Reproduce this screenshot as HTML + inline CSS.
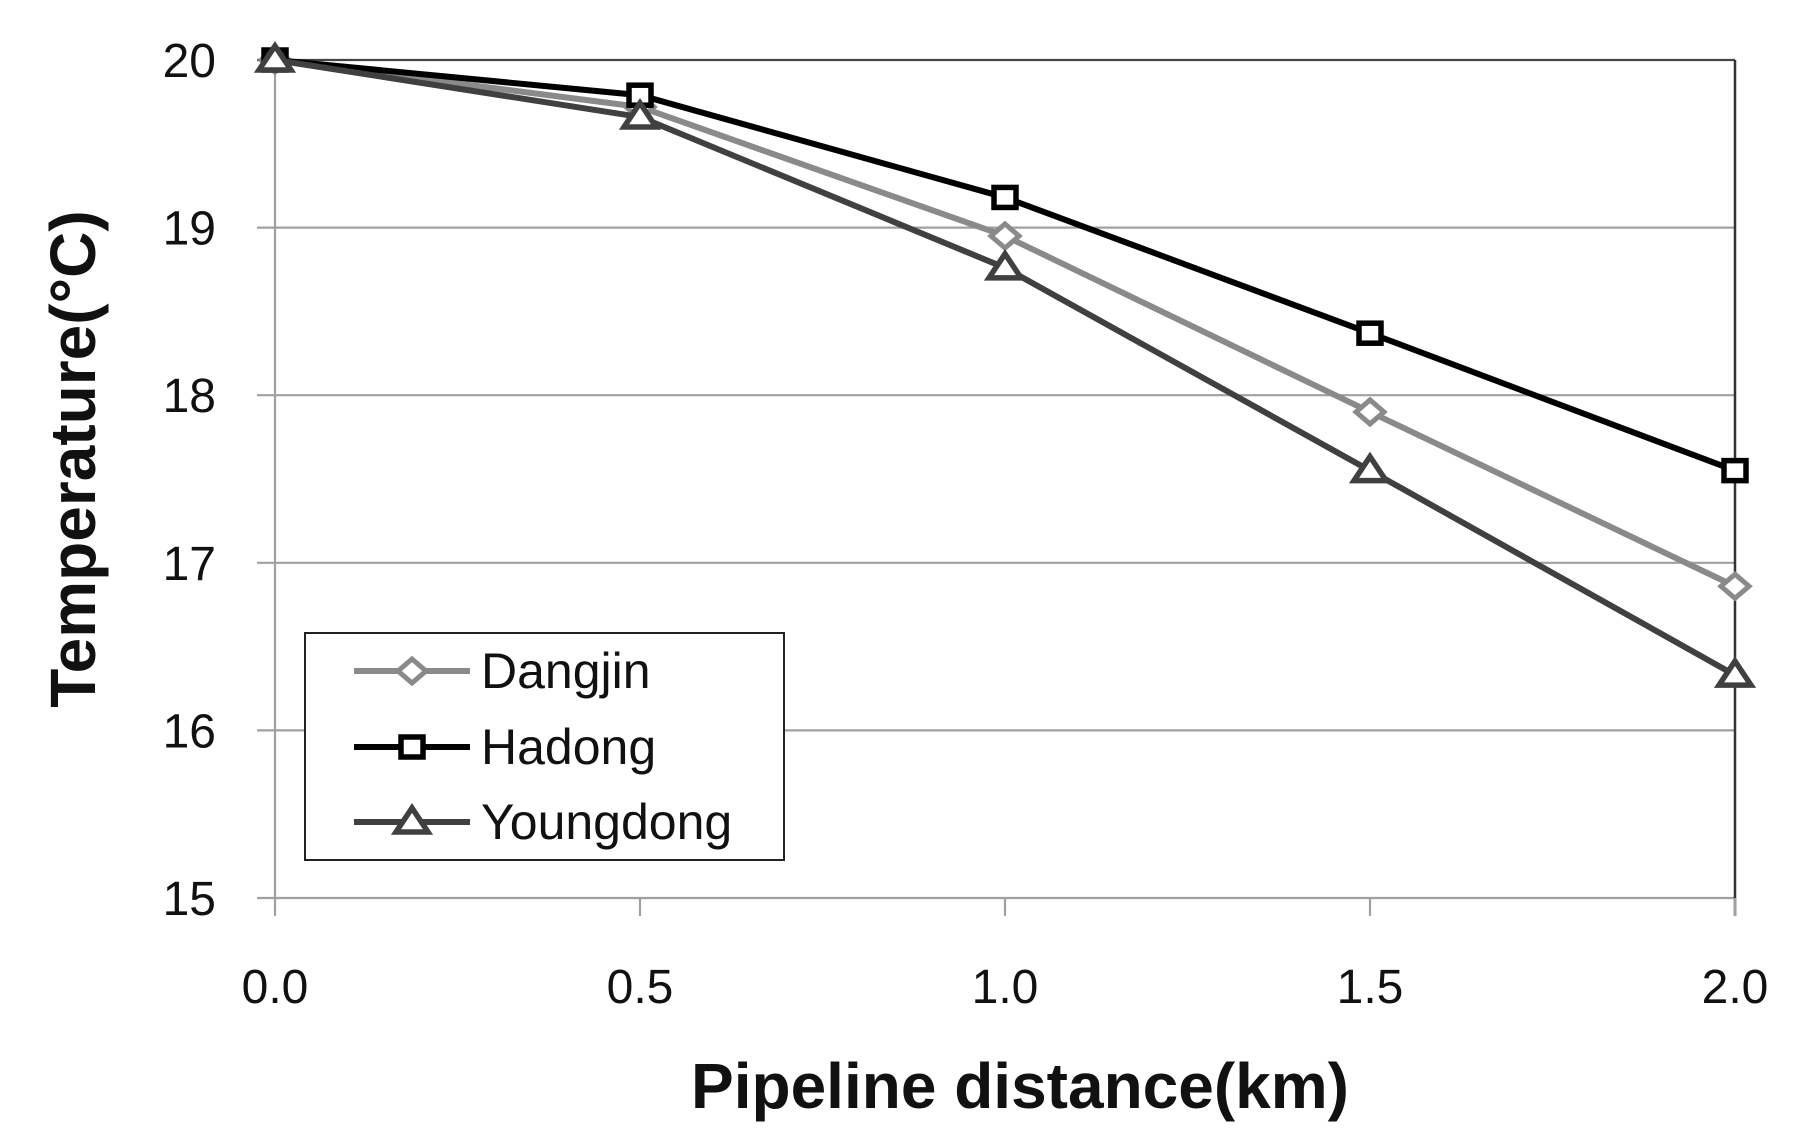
<!DOCTYPE html>
<html><head><meta charset="utf-8"><style>
html,body{margin:0;padding:0;background:#fff}
svg{display:block}
text{font-family:"Liberation Sans",sans-serif}
</style></head><body>
<svg id="chart" width="1812" height="1143" viewBox="0 0 1812 1143"></svg>
<script>
const xCategories=[0.0,0.5,1.0,1.5,2.0];
const xTickLabels=["0.0","0.5","1.0","1.5","2.0"];
const yTicks=[15,16,17,18,19,20];
const dangjin=[20,19.72,18.95,17.9,16.86];
const hadong=[20,19.79,19.18,18.37,17.55];
const youngdong=[20,19.66,18.76,17.55,16.33];
const seriesNames=["Dangjin","Hadong","Youngdong"];

const NS="http://www.w3.org/2000/svg";
const svg=document.getElementById('chart');
const L=275,R=1735,T=60,B=898;
const xs=v=>L+(v-0)/(2-0)*(R-L);
const ys=v=>B-(v-15)/(20-15)*(B-T);
function mk(tag,attrs,parent){const e=document.createElementNS(NS,tag);for(const k in attrs)e.setAttribute(k,attrs[k]);(parent||svg).appendChild(e);return e;}

yTicks.forEach(t=>{
  const g=mk('line',{x1:L-18,x2:R,y1:ys(t),y2:ys(t),stroke:t===20?'#444':'#a0a0a0','stroke-width':2.2});
  
  
  const tx=mk('text',{x:216,y:ys(t)+17,'text-anchor':'end','font-size':48,fill:'#111'});
  tx.textContent=t;
  
  
});
const ya=mk('line',{x1:L,x2:L,y1:T,y2:B,stroke:'#a0a0a0','stroke-width':2.2});


const rb=mk('line',{x1:R,x2:R,y1:T,y2:B+18,stroke:'#333','stroke-width':2.5});


xCategories.forEach((c,i)=>{
  const tk=mk('line',{x1:xs(c),x2:xs(c),y1:B,y2:B+18,stroke:'#a0a0a0','stroke-width':2.2});
  
  
  const tx=mk('text',{x:xs(c),y:1003,'text-anchor':'middle','font-size':48,fill:'#111'});
  tx.textContent=xTickLabels[i];
  
  
});
const xt=mk('text',{x:1020,y:1108,'text-anchor':'middle','font-size':64,'font-weight':'bold',fill:'#111'});
xt.textContent='Pipeline distance(km)';


const yt=mk('text',{x:0,y:0,'text-anchor':'middle','font-size':64,'font-weight':'bold',fill:'#111',transform:'translate(95,459) rotate(-90)'});
yt.textContent='Temperature(°C)';



function marker(kind,x,y,color,parent){
  let m;
  if(kind==='diamond') m=mk('polygon',{points:`${x},${y-12} ${x+14},${y} ${x},${y+12} ${x-14},${y}`,fill:'#fff',stroke:color,'stroke-width':5},parent);
  else if(kind==='square') m=mk('rect',{x:x-11,y:y-10,width:22,height:20,fill:'#fff',stroke:color,'stroke-width':5.5},parent);
  else m=mk('polygon',{points:`${x},${y-14} ${x+16},${y+10} ${x-16},${y+10}`,fill:'#fff',stroke:color,'stroke-width':5.5},parent);
  return m;
}
const styles=[{d:dangjin,c:'#8a8a8a',m:'diamond'},{d:hadong,c:'#000',m:'square'},{d:youngdong,c:'#404040',m:'triangle'}];
styles.forEach((s,si)=>{
  const g=mk('g',{});
  
  
  const pts=s.d.map((v,i)=>xs(xCategories[i])+','+ys(v)).join(' ');
  mk('polyline',{points:pts,fill:'none',stroke:s.c,'stroke-width':6,'stroke-linejoin':'round'},g);
  s.d.forEach((v,i)=>{
    const m=marker(s.m,xs(xCategories[i]),ys(v),s.c,g);
    
    
  });
});
const lg=mk('g',{});


mk('rect',{x:305,y:633,width:479,height:227,fill:'#fff',stroke:'#222','stroke-width':2},lg);
const ly=[671,747,822];
styles.forEach((s,si)=>{
  const e=mk('g',{},lg);
  
  
  mk('line',{x1:354,x2:470,y1:ly[si],y2:ly[si],stroke:s.c,'stroke-width':6},e);
  marker(s.m,412,ly[si],s.c,e);
  const t=mk('text',{x:481,y:ly[si]+17,'font-size':50,fill:'#111'},e);
  t.textContent=seriesNames[si];
});
</script>
</body></html>
